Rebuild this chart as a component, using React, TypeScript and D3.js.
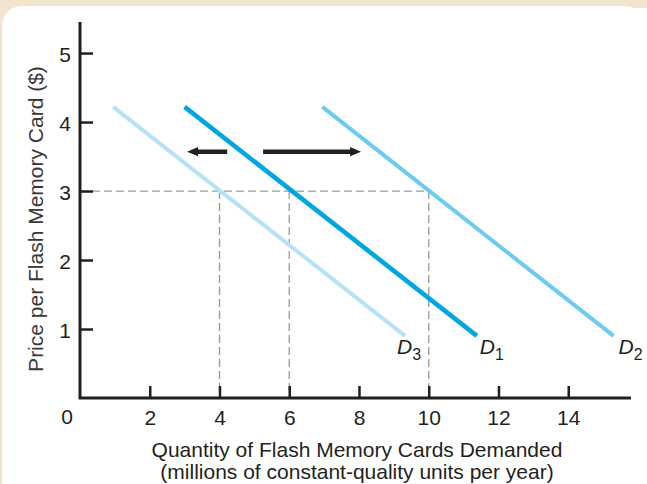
import React, { useEffect, useRef } from "react";
import * as d3 from "d3";

// Demand curves: name, start point [quantity, price], end point [quantity, price]
const curveNames = ["D3", "D1", "D2"];
const curveStarts: [number, number][] = [[0.95, 4.22], [3.0, 4.22], [6.95, 4.22]];
const curveEnds: [number, number][] = [[9.32, 0.9], [11.38, 0.9], [15.3, 0.9]];
const curveColors = ["#b5e2f6", "#00a6e2", "#6ccbf0"];
const curveWidths = [4, 4.6, 4];

// Quantity demanded on each curve at the reference price
const refPrice = 3;
const refQuantities = [4, 6, 10];

// Shift arrows: [fromQuantity, toQuantity] at arrowPrice
const arrowPrice = 3.57;
const shiftArrows: [number, number][] = [[4.22, 3.07], [5.25, 8.06]];

// Axis ticks
const xTicks = [2, 4, 6, 8, 10, 12, 14];
const yTicks = [1, 2, 3, 4, 5];

const xTitle1 = "Quantity of Flash Memory Cards Demanded";
const xTitle2 = "(millions of constant-quality units per year)";
const yTitle = "Price per Flash Memory Card ($)";

const W = 647;
const H = 484;
const FONT = "'Liberation Sans', Arial, Helvetica, sans-serif";
const INK = "#231f20";

export default function App() {
  const ref = useRef<SVGSVGElement>(null);

  useEffect(() => {
    const svg = d3.select(ref.current);
    svg.selectAll("*").remove();

    // Page background and white panel
    svg.append("rect").attr("width", W).attr("height", H).attr("fill", "#f2e5cd");
    svg.append("rect").attr("x", 2).attr("y", 6).attr("width", W - 4).attr("height", H + 20)
      .attr("rx", 20).attr("fill", "#ffffff");
    svg.append("rect").attr("x", W - 30).attr("y", 8).attr("width", 30).attr("height", H)
      .attr("fill", "#ffffff");

    const x = d3.scaleLinear().domain([0, 15.8]).range([80, 631]);
    const y = d3.scaleLinear().domain([0, 5.45]).range([398, 22]);

    // Dashed guide lines
    const guides = svg.append("g").attr("stroke", "#9b9b9b").attr("stroke-width", 1.3)
      .attr("stroke-dasharray", "8,4").attr("fill", "none");
    guides.append("line")
      .attr("x1", x(0)).attr("x2", x(d3.max(refQuantities)!))
      .attr("y1", y(refPrice)).attr("y2", y(refPrice));
    refQuantities.forEach((q) => {
      guides.append("line")
        .attr("x1", x(q)).attr("x2", x(q))
        .attr("y1", y(refPrice)).attr("y2", y(0));
    });

    // Axes
    const yAxis = d3.axisLeft(y).tickValues(yTicks).tickSizeInner(-13).tickSizeOuter(0)
      .tickPadding(9).tickFormat(d3.format("d"));
    const gy = svg.append("g").attr("transform", `translate(${x(0)},0)`).call(yAxis);
    const xAxis = d3.axisBottom(x).tickValues(xTicks).tickSizeInner(-12).tickSizeOuter(0)
      .tickPadding(12).tickFormat(d3.format("d"));
    const gx = svg.append("g").attr("transform", `translate(0,${y(0)})`).call(xAxis);
    [gx, gy].forEach((g) => {
      g.select(".domain").remove();
      g.selectAll(".tick line").attr("stroke", INK).attr("stroke-width", 2.5);
      g.selectAll(".tick text").attr("fill", INK).style("font-family", FONT).style("font-size", "21px");
    });
    gy.selectAll(".tick text").attr("dy", "0.4em");

    svg.append("path")
      .attr("d", `M${x(0)},${y(5.45)}V${y(0)}H${x(15.8)}`)
      .attr("fill", "none").attr("stroke", INK).attr("stroke-width", 3)
      .attr("stroke-linejoin", "miter");

    svg.append("text").attr("x", 67).attr("y", 424).attr("text-anchor", "middle")
      .attr("fill", INK).style("font-family", FONT).style("font-size", "21px").text("0");

    // Demand curves
    const line = d3.line<[number, number]>().x((d) => x(d[0])).y((d) => y(d[1]));
    curveNames.forEach((name, i) => {
      svg.append("path")
        .attr("d", line([curveStarts[i], curveEnds[i]]))
        .attr("fill", "none").attr("stroke", curveColors[i]).attr("stroke-width", curveWidths[i]);
    });

    // Curve labels
    const labelDx = [-8, 3, 5];
    curveNames.forEach((name, i) => {
      const ex = x(curveEnds[i][0]);
      const ey = y(curveEnds[i][1]);
      const t = svg.append("text").attr("x", ex + labelDx[i]).attr("y", ey + 18)
        .attr("fill", INK).style("font-family", FONT).style("font-size", "21px");
      t.append("tspan").style("font-style", "italic").text(name[0]);
      t.append("tspan").attr("dy", 6).style("font-size", "16px").text(name.slice(1));
    });

    // Shift arrows
    const shaft = 4.6;
    const headLen = 11;
    const headHalf = 4.6;
    shiftArrows.forEach(([from, to]) => {
      const x0 = x(from);
      const x1 = x(to);
      const yy = y(arrowPrice);
      const dir = Math.sign(x1 - x0);
      const xb = x1 - dir * headLen;
      const p = d3.path();
      p.moveTo(x0, yy - shaft / 2);
      p.lineTo(xb, yy - shaft / 2);
      p.lineTo(xb, yy - headHalf);
      p.lineTo(x1, yy);
      p.lineTo(xb, yy + headHalf);
      p.lineTo(xb, yy + shaft / 2);
      p.lineTo(x0, yy + shaft / 2);
      p.closePath();
      svg.append("path").attr("d", p.toString()).attr("fill", INK);
    });

    // Axis titles
    const title = svg.append("text").attr("text-anchor", "middle").attr("fill", INK)
      .style("font-family", FONT).style("font-size", "21px");
    title.append("tspan").attr("x", 357).attr("y", 457).text(xTitle1);
    title.append("tspan").attr("x", 357).attr("y", 479).text(xTitle2);

    svg.append("text").attr("transform", `translate(43,219) rotate(-90)`)
      .attr("text-anchor", "middle").attr("fill", "#3a3738")
      .style("font-family", FONT).style("font-size", "21px").style("font-weight", "400")
      .text(yTitle);
  }, []);

  return (
    <svg ref={ref} width={W} height={H}
      style={{ position: "absolute", left: 0, top: 0, display: "block" }} />
  );
}
